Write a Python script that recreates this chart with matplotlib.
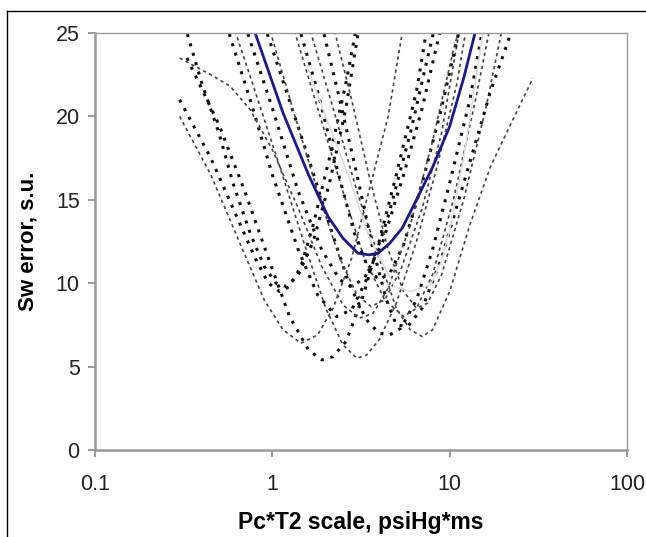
import matplotlib.pyplot as plt
from matplotlib.lines import Line2D

plt.rcParams['font.family'] = ['Liberation Sans', 'DejaVu Sans']

# best-fit curve (blue)
blue_x = [0.80, 1.15, 1.6, 2.06, 2.5, 3.04, 3.5, 3.95, 4.6, 5.4, 6.5, 8.05, 10.0, 12.0, 13.9]
blue_y = [25.0, 20.2, 16.5, 14.0, 12.7, 11.8, 11.7, 11.8, 12.4, 13.3, 15.0, 17.0, 19.4, 22.3, 25.0]

# light gray solid curve
gray_x = [1.57, 2.0, 2.74, 3.5, 4.9, 6.0, 7.8, 9.0, 10.0, 12.0, 15.4]
gray_y = [23.0, 20.0, 16.2, 12.8, 9.8, 9.5, 9.9, 11.3, 13.2, 17.5, 25.0]

# individual sample curves (dotted)
c1_x = [0.30, 0.45, 0.6, 0.8, 0.95, 1.1, 1.25, 1.45, 1.7, 2.1, 2.6, 3.0]
c1_y = [21.0, 17.5, 14.5, 11.5, 10.0, 9.5, 9.8, 11.0, 13.5, 17.5, 22.0, 25.5]
c2_x = [0.30, 0.45, 0.65, 0.9, 1.15, 1.45, 1.8, 2.2, 2.8, 3.5, 4.5, 5.5]
c2_y = [20.0, 16.5, 12.5, 9.0, 7.2, 6.4, 6.9, 8.5, 11.5, 15.5, 20.0, 25.5]
c3_x = [0.33, 0.5, 0.7, 0.95, 1.25, 1.6, 1.9, 2.2, 2.6, 3.2, 4.0, 5.0, 6.5, 7.5]
c3_y = [23.5, 19.5, 15.5, 11.5, 8.0, 6.0, 5.4, 5.6, 6.5, 9.0, 12.5, 16.5, 21.5, 25.5]
c4_x = [0.6, 0.8, 1.1, 1.5, 2.0, 2.5, 3.0, 3.4, 4.0, 5.0, 6.5, 8.5, 11.0, 12.5]
c4_y = [25.5, 21.5, 17.0, 12.5, 8.5, 6.3, 5.5, 5.7, 6.6, 8.8, 12.5, 17.0, 22.0, 25.5]
c5_x = [0.9, 1.2, 1.6, 2.1, 2.7, 3.4, 4.0, 4.6, 5.3, 6.5, 8.0, 10.0, 13.0, 15.5]
c5_y = [25.5, 21.5, 17.5, 13.5, 10.0, 7.8, 7.0, 6.9, 7.3, 9.0, 12.0, 16.0, 21.0, 25.5]
c6_x = [1.6, 2.2, 3.0, 4.0, 5.0, 6.0, 7.0, 8.0, 10.0, 13.0, 17.0, 22.0, 29.5]
c6_y = [25.5, 20.5, 15.5, 11.5, 8.5, 7.2, 6.8, 7.2, 9.5, 13.5, 17.0, 19.5, 22.3]
c8_x = [0.55, 0.75, 1.0, 1.4, 1.8, 2.3, 2.8, 3.5, 4.5, 6.0, 7.5, 8.3]
c8_y = [25.5, 21.0, 16.5, 12.0, 9.3, 8.0, 8.4, 10.5, 14.0, 19.0, 23.5, 25.5]
c9_x = [0.95, 1.3, 1.8, 2.4, 3.0, 3.6, 4.3, 5.3, 7.0, 9.0, 11.5]
c9_y = [25.5, 20.5, 15.5, 11.5, 9.3, 8.6, 9.0, 10.8, 14.5, 19.0, 25.5]
c10_x = [0.7, 1.0, 1.4, 1.9, 2.4, 2.8, 3.3, 4.2, 5.5, 7.0, 9.0]
c10_y = [25.5, 20.5, 15.5, 12.0, 10.2, 9.8, 10.3, 12.5, 16.5, 20.5, 25.5]
c11_x = [1.3, 1.8, 2.5, 3.3, 4.3, 5.5, 6.5, 8.0, 10.5, 14.0, 17.0]
c11_y = [25.5, 20.5, 15.5, 11.5, 9.0, 8.0, 8.5, 10.5, 15.0, 21.0, 25.5]
c12_x = [1.4, 1.8, 2.3, 2.9, 3.5, 4.0, 4.6, 5.5, 7.0, 9.0, 11.5]
c12_y = [25.5, 21.5, 17.0, 13.0, 10.8, 10.2, 10.6, 12.3, 16.0, 20.5, 25.5]
c14_x = [0.30, 0.45, 0.58, 0.75, 1.0, 1.4, 1.9, 2.5, 3.1, 3.7, 4.5, 6.0, 8.0, 10.5, 11.5]
c14_y = [23.5, 22.5, 21.8, 20.4, 18.0, 14.5, 11.0, 8.7, 7.9, 8.2, 9.7, 13.5, 18.5, 24.0, 25.5]
c15_x = [0.32, 0.4, 0.5, 0.6, 0.75, 0.9, 1.05, 1.2, 1.4, 1.7, 2.1, 2.6, 3.1]
c15_y = [25.5, 22.0, 19.0, 16.0, 13.0, 11.0, 10.0, 9.8, 10.5, 12.5, 16.0, 20.5, 25.5]
c16_x = [2.2, 2.8, 3.5, 4.5, 5.5, 6.5, 7.5, 9.0, 12.0, 16.0, 20.0]
c16_y = [25.5, 21.0, 16.5, 12.0, 9.5, 8.5, 8.8, 10.5, 15.0, 20.5, 25.5]
c17_x = [1.9, 2.4, 3.0, 3.7, 4.4, 5.0, 5.8, 7.0, 9.0, 12.0, 17.0, 23.0]
c17_y = [25.5, 21.0, 16.5, 12.0, 9.0, 7.5, 7.4, 8.5, 11.5, 16.0, 21.5, 25.5]

curves = [(c1_x, c1_y), (c2_x, c2_y), (c3_x, c3_y), (c4_x, c4_y), (c5_x, c5_y),
          (c6_x, c6_y), (c8_x, c8_y), (c9_x, c9_y), (c10_x, c10_y), (c11_x, c11_y),
          (c12_x, c12_y), (c14_x, c14_y), (c15_x, c15_y), (c16_x, c16_y), (c17_x, c17_y)]

x_ticks = [0.1, 1, 10, 100]
x_tick_labels = ['0.1', '1', '10', '100']
y_ticks = [0, 5, 10, 15, 20, 25]

fig = plt.figure(figsize=(6.46, 5.37), dpi=100)
ax = fig.add_axes([95 / 646, 1 - 450 / 537, (627 - 95) / 646, (450 - 33) / 537])

for i, (cx, cy) in enumerate(curves):
    if i % 2 == 0:
        ax.plot(cx, cy, color='#111111', lw=2.2, linestyle=(0, (1, 2.2)))
    else:
        ax.plot(cx, cy, color='#444444', lw=1.2, linestyle=(0, (2, 2)))

ax.plot(gray_x, gray_y, color='#dddddd', lw=1.2)
ax.plot(blue_x, blue_y, color='#1a1a8c', lw=2.0)

ax.set_xscale('log')
ax.set_xlim(0.1, 100)
ax.set_ylim(0, 25)
ax.set_xticks(x_ticks)
ax.set_xticklabels(x_tick_labels)
ax.minorticks_off()
ax.set_yticks(y_ticks)

for s in ax.spines.values():
    s.set_color('#999999')
    s.set_linewidth(1.0)
ax.spines['left'].set_linewidth(1.8)
ax.spines['bottom'].set_linewidth(1.8)
ax.tick_params(axis='both', direction='out', length=5, width=1.2, color='#888888',
               labelsize=15.5, pad=6, labelcolor='#222222')
ax.tick_params(axis='x', pad=12)

ax.set_xlabel('Pc*T2 scale, psiHg*ms', fontsize=16.5, fontweight='bold', labelpad=12)
ax.set_ylabel('Sw error, s.u.', fontsize=16, fontweight='bold', labelpad=12)

# page frame lines
fig.add_artist(Line2D([7 / 646, 1], [1 - 11 / 537, 1 - 11 / 537], color='black', lw=1.0))
fig.add_artist(Line2D([7 / 646, 7 / 646], [0, 1 - 11 / 537], color='black', lw=1.0))

fig.savefig('out.png', dpi=100)
